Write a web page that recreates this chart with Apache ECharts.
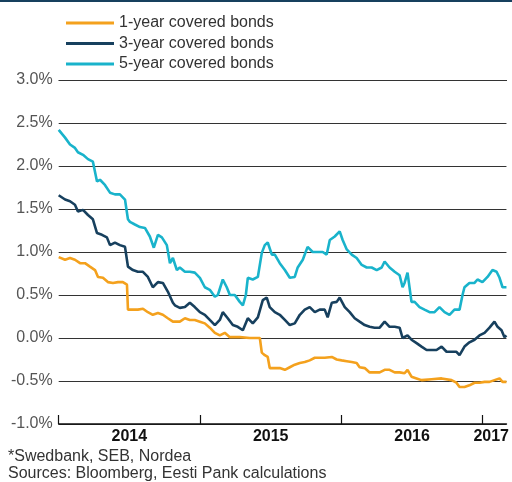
<!DOCTYPE html>
<html>
<head>
<meta charset="utf-8">
<script src="https://cdn.jsdelivr.net/npm/echarts@6/dist/echarts.min.js"></script>
<style>
  html, body { margin: 0; padding: 0; background: #fff; }
  #chart { width: 512px; height: 482px; }
</style>
</head>
<body>
<div id="chart"></div>
<script>
// series names and colours
var seriesNames = ['1-year covered bonds', '3-year covered bonds', '5-year covered bonds'];
var seriesColors = ['#f4a11d', '#17405e', '#19b3cb'];

// x is the decimal year, y the yield in %
var oneYear = [
  [2014.00, 0.94], [2014.009, 0.93], [2014.045, 0.91], [2014.08, 0.93], [2014.115, 0.91],
  [2014.151, 0.87], [2014.186, 0.87], [2014.221, 0.83], [2014.257, 0.79], [2014.278, 0.71],
  [2014.313, 0.70], [2014.348, 0.65], [2014.384, 0.64], [2014.419, 0.65], [2014.454, 0.65],
  [2014.483, 0.62], [2014.49, 0.33], [2014.525, 0.33], [2014.56, 0.33], [2014.596, 0.34],
  [2014.631, 0.30], [2014.666, 0.27], [2014.702, 0.29], [2014.737, 0.27], [2014.772, 0.23],
  [2014.808, 0.19], [2014.857, 0.19], [2014.893, 0.23], [2014.928, 0.21], [2014.963, 0.21],
  [2014.999, 0.19], [2015.034, 0.17], [2015.069, 0.12], [2015.105, 0.06], [2015.14, 0.03],
  [2015.175, 0.06], [2015.211, 0.01], [2015.281, 0.01], [2015.352, 0.00], [2015.423, 0.00],
  [2015.437, -0.17], [2015.458, -0.20], [2015.479, -0.22], [2015.493, -0.35], [2015.529, -0.35],
  [2015.564, -0.35], [2015.60, -0.37], [2015.635, -0.34], [2015.67, -0.31], [2015.706, -0.29],
  [2015.741, -0.28], [2015.776, -0.26], [2015.812, -0.23], [2015.882, -0.23], [2015.932, -0.22],
  [2015.967, -0.25], [2016.002, -0.26], [2016.038, -0.27], [2016.073, -0.28], [2016.108, -0.29],
  [2016.129, -0.34], [2016.165, -0.35], [2016.20, -0.40], [2016.271, -0.40], [2016.306, -0.37],
  [2016.341, -0.37], [2016.377, -0.40], [2016.412, -0.40], [2016.447, -0.41], [2016.468, -0.37],
  [2016.496, -0.45], [2016.532, -0.47], [2016.567, -0.49], [2016.638, -0.48], [2016.709, -0.47],
  [2016.779, -0.49], [2016.814, -0.52], [2016.836, -0.57], [2016.871, -0.57], [2016.906, -0.55],
  [2016.942, -0.52], [2016.977, -0.52], [2017.013, -0.51], [2017.048, -0.51], [2017.083, -0.49],
  [2017.119, -0.47], [2017.14, -0.51], [2017.168, -0.51]
];

var threeYear = [
  [2014.00, 1.66], [2014.009, 1.64], [2014.045, 1.61], [2014.08, 1.59], [2014.115, 1.55],
  [2014.136, 1.47], [2014.172, 1.49], [2014.207, 1.43], [2014.242, 1.38], [2014.271, 1.22],
  [2014.306, 1.20], [2014.341, 1.17], [2014.363, 1.08], [2014.398, 1.11], [2014.433, 1.08],
  [2014.469, 1.06], [2014.49, 0.83], [2014.525, 0.79], [2014.56, 0.77], [2014.596, 0.77],
  [2014.631, 0.71], [2014.666, 0.59], [2014.702, 0.65], [2014.737, 0.64], [2014.772, 0.54],
  [2014.808, 0.41], [2014.822, 0.38], [2014.857, 0.35], [2014.893, 0.36], [2014.928, 0.41],
  [2014.963, 0.36], [2014.999, 0.30], [2015.034, 0.27], [2015.069, 0.21], [2015.105, 0.15],
  [2015.14, 0.21], [2015.161, 0.30], [2015.196, 0.23], [2015.232, 0.15], [2015.267, 0.13],
  [2015.303, 0.09], [2015.338, 0.23], [2015.373, 0.17], [2015.409, 0.24], [2015.444, 0.44],
  [2015.472, 0.47], [2015.493, 0.36], [2015.529, 0.30], [2015.564, 0.27], [2015.60, 0.21],
  [2015.635, 0.15], [2015.67, 0.17], [2015.706, 0.27], [2015.741, 0.33], [2015.776, 0.36],
  [2015.812, 0.30], [2015.847, 0.33], [2015.882, 0.33], [2015.903, 0.24], [2015.932, 0.41],
  [2015.967, 0.42], [2015.988, 0.47], [2016.024, 0.36], [2016.059, 0.30], [2016.094, 0.23],
  [2016.129, 0.19], [2016.165, 0.15], [2016.20, 0.13], [2016.235, 0.12], [2016.271, 0.12],
  [2016.306, 0.19], [2016.341, 0.13], [2016.377, 0.13], [2016.412, 0.12], [2016.433, 0.00],
  [2016.447, 0.00], [2016.468, 0.03], [2016.496, -0.02], [2016.532, -0.06], [2016.567, -0.10],
  [2016.603, -0.14], [2016.638, -0.14], [2016.673, -0.14], [2016.709, -0.10], [2016.744, -0.16],
  [2016.779, -0.16], [2016.814, -0.16], [2016.836, -0.20], [2016.871, -0.10], [2016.906, -0.05],
  [2016.942, -0.02], [2016.977, 0.03], [2017.013, 0.06], [2017.048, 0.12], [2017.083, 0.19],
  [2017.105, 0.13], [2017.133, 0.09], [2017.154, 0.01], [2017.168, 0.03]
];

var fiveYear = [
  [2014.00, 2.42], [2014.045, 2.33], [2014.08, 2.25], [2014.115, 2.21], [2014.136, 2.16],
  [2014.172, 2.13], [2014.207, 2.08], [2014.242, 2.05], [2014.271, 1.82], [2014.292, 1.84],
  [2014.327, 1.78], [2014.363, 1.69], [2014.398, 1.67], [2014.433, 1.67], [2014.469, 1.61],
  [2014.49, 1.38], [2014.504, 1.35], [2014.539, 1.32], [2014.575, 1.29], [2014.61, 1.28],
  [2014.645, 1.18], [2014.673, 1.05], [2014.702, 1.20], [2014.73, 1.17], [2014.765, 1.08],
  [2014.787, 0.87], [2014.808, 0.93], [2014.836, 0.79], [2014.857, 0.82], [2014.893, 0.77],
  [2014.928, 0.77], [2014.963, 0.76], [2014.999, 0.70], [2015.034, 0.59], [2015.069, 0.56],
  [2015.105, 0.48], [2015.126, 0.50], [2015.161, 0.68], [2015.189, 0.59], [2015.211, 0.50],
  [2015.246, 0.50], [2015.281, 0.42], [2015.303, 0.38], [2015.324, 0.50], [2015.338, 0.70],
  [2015.373, 0.68], [2015.409, 0.71], [2015.437, 0.99], [2015.458, 1.08], [2015.479, 1.11],
  [2015.508, 0.97], [2015.529, 0.97], [2015.564, 0.87], [2015.60, 0.79], [2015.635, 0.70],
  [2015.67, 0.71], [2015.691, 0.82], [2015.727, 0.91], [2015.761, 1.06], [2015.797, 1.00],
  [2015.833, 1.00], [2015.868, 1.00], [2015.896, 0.97], [2015.918, 1.14], [2015.953, 1.18],
  [2015.988, 1.24], [2016.009, 1.14], [2016.038, 1.03], [2016.073, 0.97], [2016.108, 0.93],
  [2016.144, 0.85], [2016.179, 0.82], [2016.214, 0.82], [2016.25, 0.79], [2016.285, 0.82],
  [2016.306, 0.89], [2016.341, 0.82], [2016.377, 0.77], [2016.412, 0.73], [2016.433, 0.59],
  [2016.447, 0.64], [2016.468, 0.76], [2016.496, 0.42], [2016.518, 0.42], [2016.553, 0.36],
  [2016.588, 0.33], [2016.624, 0.30], [2016.659, 0.30], [2016.694, 0.36], [2016.73, 0.30],
  [2016.765, 0.27], [2016.80, 0.33], [2016.836, 0.33], [2016.857, 0.50], [2016.871, 0.59],
  [2016.906, 0.64], [2016.942, 0.64], [2016.963, 0.68], [2016.998, 0.65], [2017.034, 0.71],
  [2017.069, 0.79], [2017.098, 0.77], [2017.119, 0.70], [2017.14, 0.59], [2017.168, 0.59]
];

// axis ticks (year boundaries) and where the year labels sit
var yearTicks = [2014, 2015, 2016, 2017];
var yearLabelPos = [2014.5, 2015.5, 2016.5, 2017.06];
var notes = ['*Swedbank, SEB, Nordea', 'Sources: Bloomberg, Eesti Pank calculations'];

var font = '"Liberation Sans", Arial, Helvetica, sans-serif';
var W = 512;
var gridBox = { left: 58.7, right: 5, top: 80, bottom: 58 };
var myChart = echarts.init(document.getElementById('chart'));

function lineSeries(i, data) {
  return {
    name: seriesNames[i],
    type: 'line',
    data: data,
    showSymbol: false,
    color: seriesColors[i],
    lineStyle: { width: 2.6, color: seriesColors[i] },
    z: 3 + i
  };
}

var option = {
  animation: false,
  backgroundColor: '#fff',
  textStyle: { fontFamily: font },
  legend: {
    orient: 'vertical',
    left: 61,
    top: 9,
    icon: 'rect',
    itemWidth: 48,
    itemHeight: 3,
    itemGap: 2.5,
    textStyle: { fontSize: 16, color: '#333', lineHeight: 18, fontFamily: font },
    data: seriesNames
  },
  grid: gridBox,
  xAxis: {
    type: 'value',
    min: 2014,
    max: 2017.168,
    splitLine: { show: false },
    axisLine: { onZero: false, lineStyle: { color: '#111', width: 1.5 } },
    axisTick: { customValues: yearTicks, inside: true, length: 9, lineStyle: { color: '#111', width: 1.2 } },
    axisLabel: {
      customValues: yearLabelPos,
      formatter: function (v) { return String(Math.floor(v)); },
      fontSize: 16, fontWeight: 'bold', color: '#111', margin: 5, fontFamily: font
    }
  },
  yAxis: {
    type: 'value',
    min: -1,
    max: 3,
    interval: 0.5,
    axisLine: { show: false },
    axisTick: { show: false },
    splitLine: { show: true, lineStyle: { color: '#333', width: 1 } },
    axisLabel: {
      formatter: function (v) { return v.toFixed(1) + '%'; },
      fontSize: 16, color: '#555', margin: 6, fontFamily: font
    }
  },
  graphic: [
    { type: 'rect', left: 0, top: 0, shape: { width: W, height: 2 }, style: { fill: '#17405e' } },
    // frame line along the top edge of the plot (the 3.0% gridline)
    {
      type: 'rect', z: 100,
      shape: { x: gridBox.left, y: gridBox.top, width: W - gridBox.left - gridBox.right, height: 1 },
      style: { fill: '#333' }
    },
    { type: 'text', left: 8, top: 449, style: { text: notes[0], fontSize: 16, fill: '#333', fontFamily: font } },
    { type: 'text', left: 8, top: 466, style: { text: notes[1], fontSize: 16, fill: '#333', fontFamily: font } }
  ],
  series: [
    lineSeries(0, oneYear),
    lineSeries(1, threeYear),
    lineSeries(2, fiveYear)
  ]
};
myChart.setOption(option);
</script>
</body>
</html>
